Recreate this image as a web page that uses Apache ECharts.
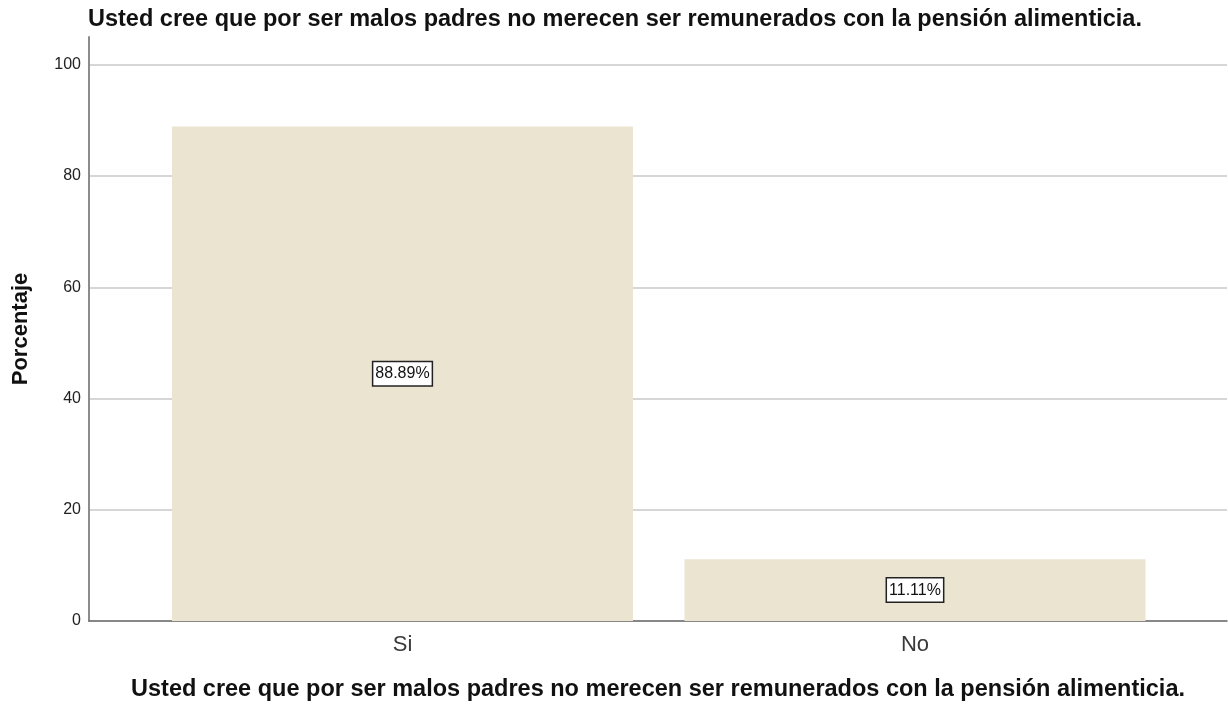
<!DOCTYPE html>
<html>
<head>
<meta charset="utf-8">
<title>Pensión alimenticia</title>
<script src="https://cdn.jsdelivr.net/npm/echarts@6/dist/echarts.min.js"></script>
<style>
  html, body { margin: 0; padding: 0; background: #fff; }
  #main { width: 1228px; height: 709px; }
</style>
</head>
<body>
<div id="main"></div>
<script>
'use strict';

/* ===== data ===== */
var categories = ['Si', 'No'];
var percents = [88.89, 11.11];
var yTicks = [0, 20, 40, 60, 80, 100];
var questionText = 'Usted cree que por ser malos padres no merecen ser remunerados con la pensión alimenticia.';

var font = 'Liberation Sans, Arial, sans-serif';

// bars sit on a value axis (index of category) so the side padding can match
var barData = percents.map(function (v, i) {
  return [i, v];
});

var myChart = echarts.init(document.getElementById('main'));

var option = {
  backgroundColor: '#fff',
  animation: false,
  title: {
    text: questionText,
    left: 83,
    top: 3,
    textStyle: {
      fontFamily: font,
      fontSize: 23.5,
      fontWeight: 'bold',
      color: '#111'
    }
  },
  grid: {
    left: 89,
    right: 1,
    top: 37,
    bottom: 88
  },
  xAxis: {
    type: 'value',
    min: -0.6117,
    max: 1.6088,
    name: questionText,
    nameLocation: 'middle',
    nameGap: 57,
    nameTextStyle: {
      fontFamily: font,
      fontSize: 23.5,
      fontWeight: 'bold',
      color: '#111'
    },
    axisLine: { show: true, onZero: false, lineStyle: { color: '#6e6e6e', width: 1.5 } },
    axisTick: { show: false, customValues: [0, 1] },
    splitLine: { show: false },
    axisLabel: {
      customValues: [0, 1],
      margin: 13,
      fontFamily: font,
      fontSize: 22,
      color: '#3a3a3a',
      formatter: function (v) {
        return categories[Math.round(v)];
      }
    }
  },
  yAxis: {
    type: 'value',
    min: 0,
    max: 105,
    name: 'Porcentaje',
    nameLocation: 'middle',
    nameGap: 57,
    nameTextStyle: {
      fontFamily: font,
      fontSize: 22,
      fontWeight: 'bold',
      color: '#111'
    },
    axisLine: { show: true, onZero: false, lineStyle: { color: '#8c8c8c', width: 2 } },
    axisTick: { show: false, customValues: yTicks },
    axisLabel: {
      customValues: yTicks,
      margin: 8,
      fontFamily: font,
      fontSize: 16,
      color: '#222'
    },
    splitLine: { show: true, lineStyle: { color: '#d6d6d6', width: 2 } }
  },
  series: [
    {
      type: 'bar',
      data: barData,
      barWidth: 461,
      itemStyle: { color: '#eae4d0' },
      label: {
        show: true,
        position: 'inside',
        fontFamily: font,
        fontSize: 16,
        color: '#111',
        backgroundColor: '#fff',
        borderColor: '#222',
        borderWidth: 1.5,
        padding: [4, 2, 3, 2],
        formatter: function (p) {
          return p.value[1].toFixed(2) + '%';
        }
      }
    }
  ]
};

myChart.setOption(option);
</script>
</body>
</html>
